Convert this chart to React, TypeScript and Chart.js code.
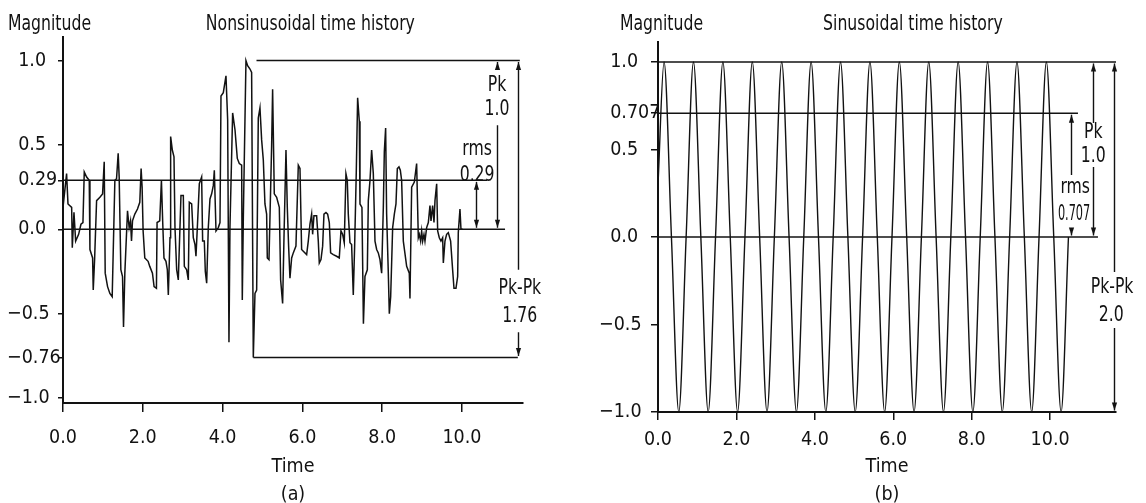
import React, { useEffect, useRef } from "react";
import { Chart, registerables } from "chart.js";

Chart.register(...registerables);

const FONT = '"DejaVu Sans Condensed", "Liberation Sans Narrow", "Liberation Sans", sans-serif';
const INK = "#121212";
const TICK_SIZE = 19.5;
const NOTE_SIZE = 21;
const NOTE_SQUEEZE = 0.83;

// ---------------- Panel (a): nonsinusoidal time history ----------------
const nsTime = [
  0.0, 0.09, 0.125, 0.217, 0.233, 0.275, 0.317, 0.392, 0.45, 0.5,
  0.533, 0.592, 0.658, 0.675, 0.742, 0.758, 0.792, 0.842, 0.925, 0.992,
  1.033, 1.058, 1.117, 1.175, 1.233, 1.3, 1.342, 1.383, 1.408, 1.45,
  1.492, 1.517, 1.55, 1.617, 1.658, 1.692, 1.717, 1.742, 1.8, 1.867,
  1.925, 1.958, 1.983, 2.008, 2.05, 2.133, 2.175, 2.242, 2.283, 2.342,
  2.358, 2.425, 2.467, 2.498, 2.531, 2.581, 2.615, 2.64, 2.682, 2.698,
  2.74, 2.782, 2.807, 2.849, 2.89, 2.957, 3.016, 3.041, 3.1, 3.141,
  3.166, 3.225, 3.266, 3.308, 3.333, 3.367, 3.417, 3.475, 3.5, 3.542,
  3.567, 3.601, 3.642, 3.684, 3.726, 3.768, 3.793, 3.835, 3.893, 3.935,
  3.96, 4.018, 4.085, 4.127, 4.16, 4.185, 4.252, 4.311, 4.369, 4.419,
  4.478, 4.494, 4.52, 4.586, 4.628, 4.687, 4.728, 4.77, 4.812, 4.854,
  4.895, 4.937, 4.979, 5.021, 5.062, 5.104, 5.121, 5.163, 5.229, 5.254,
  5.296, 5.355, 5.422, 5.455, 5.505, 5.539, 5.589, 5.622, 5.655, 5.689,
  5.731, 5.772, 5.839, 5.898, 5.94, 5.981, 6.023, 6.107, 6.148, 6.19,
  6.232, 6.257, 6.29, 6.357, 6.399, 6.424, 6.466, 6.508, 6.541, 6.591,
  6.633, 6.675, 6.708, 6.775, 6.858, 6.925, 6.967, 7.009, 7.05, 7.092,
  7.126, 7.151, 7.193, 7.234, 7.276, 7.31, 7.351, 7.385, 7.427, 7.444,
  7.493, 7.53, 7.569, 7.628, 7.653, 7.695, 7.736, 7.778, 7.82, 7.862,
  7.903, 7.945, 7.987, 8.029, 8.054, 8.087, 8.112, 8.154, 8.179, 8.213,
  8.263, 8.305, 8.346, 8.38, 8.421, 8.455, 8.488, 8.53, 8.614, 8.68,
  8.697, 8.739, 8.806, 8.864, 8.906, 8.931, 8.964, 8.99, 9.015, 9.048,
  9.073, 9.115, 9.157, 9.198, 9.224, 9.265, 9.299, 9.324, 9.366, 9.391,
  9.432, 9.474, 9.516, 9.533, 9.574, 9.616, 9.658, 9.716, 9.766, 9.8,
  9.85, 9.892, 9.908, 9.95, 9.975, 10.017,
];
const nsValue = [
  0.13, 0.33, 0.15, 0.13, -0.11, 0.1, -0.07, -0.03, 0.03, 0.04,
  0.34, 0.31, 0.29, -0.12, -0.17, -0.36, -0.18, 0.17, 0.19, 0.21,
  0.4, -0.26, -0.34, -0.38, -0.4, 0.29, 0.3, 0.45, 0.31, -0.24,
  -0.28, -0.58, -0.26, 0.11, 0.01, 0.05, -0.07, 0.05, 0.09, 0.12,
  0.16, 0.36, 0.25, -0.01, -0.17, -0.19, -0.22, -0.26, -0.34, -0.35,
  0.04, 0.05, 0.29, 0.05, -0.17, -0.19, -0.24, -0.39, -0.05, 0.55,
  0.47, 0.43, 0.01, -0.24, -0.3, 0.2, 0.2, -0.22, -0.24, -0.3,
  0.16, 0.15, -0.05, -0.09, -0.16, 0.01, 0.27, 0.31, -0.07, -0.07,
  -0.25, -0.32, 0.01, 0.18, 0.21, 0.26, 0.35, -0.01, 0.01, 0.04,
  0.79, 0.81, 0.91, 0.65, -0.67, 0.01, 0.69, 0.59, 0.42, 0.39,
  0.38, -0.42, 0.07, 1.0, 0.97, 0.95, 0.93, -0.76, -0.38, -0.36,
  0.66, 0.72, 0.53, 0.41, 0.15, 0.09, -0.17, -0.18, 0.49, 0.83,
  0.21, 0.19, 0.13, -0.3, -0.44, -0.05, 0.47, 0.13, -0.1, -0.29,
  -0.17, -0.14, -0.1, 0.38, 0.36, -0.12, -0.13, -0.15, -0.07, 0.03,
  0.09, -0.03, 0.08, 0.08, -0.07, -0.2, -0.18, -0.1, 0.09, 0.1,
  0.09, 0.04, -0.14, -0.15, -0.16, -0.17, -0.01, -0.03, -0.08, 0.33,
  0.29, 0.09, -0.08, -0.09, -0.39, -0.1, 0.34, 0.78, 0.64, 0.15,
  0.13, -0.56, -0.28, -0.24, 0.17, 0.29, 0.47, 0.33, -0.07, -0.12,
  -0.14, -0.18, -0.26, 0.13, 0.46, 0.6, 0.09, -0.26, -0.5, -0.4,
  0.01, 0.09, 0.15, 0.36, 0.37, 0.35, 0.29, -0.07, -0.22, -0.26,
  -0.41, 0.25, 0.28, 0.39, -0.05, -0.03, -0.07, -0.01, -0.07, -0.03,
  -0.07, 0.01, 0.04, 0.14, 0.05, 0.14, 0.04, 0.17, 0.27, -0.01,
  -0.05, -0.07, -0.05, -0.2, -0.07, -0.03, -0.02, -0.07, -0.24, -0.35,
  -0.35, -0.28, -0.02, 0.12, 0.0, 0.0,
];

const xTicks = [0, 2, 4, 6, 8, 10];
const xTickLabels = ["0.0", "2.0", "4.0", "6.0", "8.0", "10.0"];

const aYTicks = [1.0, 0.5, 0.29, 0.0, -0.5, -0.76, -1.0];
const aYTickLabels = ["\u20071.0", "\u20070.5", "\u20070.29", "\u20070.0", "\u22120.5", "\u22120.76", "\u22121.0"];

const aRefLevel = [1.0, 0.29, 0.0, -0.76];
const aRefStart = [4.85, 0, 0, 4.77];
const aRefEnd = [11.45, 10.63, 11.08, 11.4];

const aArrowX = [10.88, 10.35, 11.4];
const aArrowTop = [1.0, 0.29, 1.0];
const aArrowBottom = [0.0, 0.0, -0.76];
const aGapTop = [0.955, NaN, -0.24];
const aGapBottom = [0.617, NaN, -0.61];

const aNoteText = ["Pk", "1.0", "rms", "0.29", "Pk-Pk", "1.76"];
const aNoteX = [10.88, 10.88, 10.38, 10.38, 11.45, 11.45];
const aNoteY = [0.855, 0.71, 0.47, 0.32, -0.35, -0.515];
const aNoteSqueeze = [1, 1, 1, 1, 1, 1];

// ---------------- Panel (b): sinusoidal time history ----------------
const sinTime = [
  0, 0.155, 0.3425, 0.53, 0.7175, 0.905, 1.0925, 1.28, 1.4675, 1.655,
  1.8425, 2.03, 2.2175, 2.405, 2.5925, 2.78, 2.9675, 3.155, 3.3425, 3.53,
  3.7175, 3.905, 4.0925, 4.28, 4.4675, 4.655, 4.8425, 5.03, 5.2175, 5.405,
  5.5925, 5.78, 5.9675, 6.155, 6.3425, 6.53, 6.7175, 6.905, 7.0925, 7.28,
  7.4675, 7.655, 7.8425, 8.03, 8.2175, 8.405, 8.5925, 8.78, 8.9675, 9.155,
  9.3425, 9.53, 9.7175, 9.905, 10.0925, 10.28, 10.4675,
];
const sinValue = [
  0.3, 1, 0, -1, 0, 1, 0, -1, 0, 1,
  0, -1, 0, 1, 0, -1, 0, 1, 0, -1,
  0, 1, 0, -1, 0, 1, 0, -1, 0, 1,
  0, -1, 0, 1, 0, -1, 0, 1, 0, -1,
  0, 1, 0, -1, 0, 1, 0, -1, 0, 1,
  0, -1, 0, 1, 0, -1, 0,
];

const bYTicks = [1.0, 0.707, 0.5, 0.0, -0.5, -1.0];
const bYTickLabels = ["\u20071.0", "\u20070.707", "\u20070.5", "\u20070.0", "\u22120.5", "\u22121.0"];

const bRefLevel = [1.0, 0.707, 0.0];
const bRefStart = [0, 0, 0];
const bRefEnd = [11.68, 10.71, 11.22];

const bArrowX = [11.1, 10.54, 11.63];
const bArrowTop = [1.0, 0.707, 1.0];
const bArrowBottom = [0.0, 0.0, -1.0];
const bGapTop = [0.651, 0.354, -0.2];
const bGapBottom = [0.4, 0.029, -0.52];

const bNoteText = ["Pk", "1.0", "rms", "0.707", "Pk-Pk", "2.0"];
const bNoteX = [11.1, 11.1, 10.64, 10.61, 11.58, 11.56];
const bNoteY = [0.594, 0.457, 0.28, 0.126, -0.29, -0.45];
const bNoteSqueeze = [1, 1, 1, 0.72, 1, 1];

type PanelSpec = {
  id: string;
  time: number[];
  value: number[];
  smooth: boolean;
  lineWidth: number;
  yTicks: number[];
  yTickLabels: string[];
  yMin: number;
  yMax: number;
  xMax: number;
  refLevel: number[];
  refStart: number[];
  refEnd: number[];
  arrowX: number[];
  arrowTop: number[];
  arrowBottom: number[];
  gapTop: number[];
  gapBottom: number[];
  noteText: string[];
  noteX: number[];
  noteY: number[];
  noteSqueeze: number[];
  header: string;
  headerX: number;
  title: string;
  titleX: number;
  caption: string;
  padding: { left: number; top: number; right: number; bottom: number };
  yWidth: number;
  xHeight: number;
  xTickPad: number;
  yTickLen: number;
  xTickLen: number;
};

function squeezedText(ctx: CanvasRenderingContext2D, text: string, x: number, y: number, sx: number) {
  ctx.save();
  ctx.translate(x, y);
  ctx.scale(sx, 1);
  ctx.fillText(text, 0, 0);
  ctx.restore();
}

function makeNotesPlugin(p: PanelSpec) {
  return {
    id: "notes_" + p.id,
    afterDraw(chart: any) {
      const ctx: CanvasRenderingContext2D = chart.ctx;
      const xs = chart.scales.x;
      const ys = chart.scales.y;
      ctx.save();
      ctx.strokeStyle = INK;
      ctx.fillStyle = INK;
      ctx.lineWidth = 1.4;
      p.arrowX.forEach((ax, i) => {
        const px = Math.round(xs.getPixelForValue(ax)) + 0.5;
        const top = ys.getPixelForValue(p.arrowTop[i]) + 1.5;
        const bot = ys.getPixelForValue(p.arrowBottom[i]) - 1.5;
        ctx.beginPath();
        if (!isNaN(p.gapTop[i])) {
          ctx.moveTo(px, top);
          ctx.lineTo(px, ys.getPixelForValue(p.gapTop[i]));
          ctx.moveTo(px, ys.getPixelForValue(p.gapBottom[i]));
          ctx.lineTo(px, bot);
        } else {
          ctx.moveTo(px, top);
          ctx.lineTo(px, bot);
        }
        ctx.stroke();
        const hw = 2.6;
        const hl = 8;
        ctx.beginPath();
        ctx.moveTo(px, top);
        ctx.lineTo(px - hw, top + hl);
        ctx.lineTo(px + hw, top + hl);
        ctx.closePath();
        ctx.fill();
        ctx.beginPath();
        ctx.moveTo(px, bot);
        ctx.lineTo(px - hw, bot - hl);
        ctx.lineTo(px + hw, bot - hl);
        ctx.closePath();
        ctx.fill();
      });
      ctx.font = `${NOTE_SIZE}px ${FONT}`;
      ctx.textAlign = "center";
      ctx.textBaseline = "middle";
      p.noteText.forEach((t, i) => {
        squeezedText(
          ctx,
          t,
          xs.getPixelForValue(p.noteX[i]),
          ys.getPixelForValue(p.noteY[i]),
          NOTE_SQUEEZE * p.noteSqueeze[i]
        );
      });
      ctx.textAlign = "left";
      squeezedText(ctx, p.header, xs.getPixelForValue(p.headerX), 25, NOTE_SQUEEZE);
      ctx.textAlign = "center";
      squeezedText(ctx, p.title, xs.getPixelForValue(p.titleX), 25, NOTE_SQUEEZE);
      ctx.restore();
    },
  };
}

function buildConfig(p: PanelSpec): any {
  const main = {
    data: p.time.map((t, i) => ({ x: t, y: p.value[i] })),
    borderColor: INK,
    borderWidth: p.lineWidth,
    pointRadius: 0,
    tension: 0,
    cubicInterpolationMode: p.smooth ? "monotone" : "default",
    fill: false,
  };
  const refs = p.refLevel.map((lv, i) => ({
    data: [
      { x: p.refStart[i], y: lv },
      { x: p.refEnd[i], y: lv },
    ],
    borderColor: INK,
    borderWidth: 1.5,
    pointRadius: 0,
    fill: false,
  }));
  const tickFont = { family: FONT, size: TICK_SIZE };
  return {
    type: "line",
    data: { datasets: [main, ...refs] },
    options: {
      animation: false,
      responsive: false,
      events: [],
      layout: { padding: p.padding },
      plugins: {
        legend: { display: false },
        tooltip: { enabled: false },
        title: { display: false },
      },
      scales: {
        x: {
          type: "linear",
          min: 0,
          max: p.xMax,
          afterBuildTicks: (s: any) => {
            s.ticks = xTicks.map((v) => ({ value: v }));
          },
          afterFit: (s: any) => {
            s.height = p.xHeight;
          },
          ticks: {
            autoSkip: false,
            maxRotation: 0,
            padding: p.xTickPad,
            font: tickFont,
            color: INK,
            callback: (_v: any, i: number) => xTickLabels[i],
          },
          grid: {
            drawOnChartArea: false,
            drawTicks: true,
            tickLength: p.xTickLen,
            color: INK,
            lineWidth: 1.5,
          },
          border: { display: true, color: INK, width: 2 },
          title: {
            display: true,
            text: ["Time", p.caption],
            font: { family: FONT, size: TICK_SIZE, lineHeight: 1.39 },
            color: INK,
            padding: { top: 0, bottom: -5 },
          },
        },
        y: {
          type: "linear",
          min: p.yMin,
          max: p.yMax,
          afterBuildTicks: (s: any) => {
            s.ticks = p.yTicks.map((v) => ({ value: v }));
          },
          afterFit: (s: any) => {
            s.width = p.yWidth;
          },
          ticks: {
            autoSkip: false,
            crossAlign: "far",
            font: tickFont,
            color: INK,
            callback: (_v: any, i: number) => p.yTickLabels[i],
          },
          grid: {
            drawOnChartArea: false,
            drawTicks: true,
            tickLength: p.yTickLen,
            color: INK,
            lineWidth: 1.5,
          },
          border: { display: true, color: INK, width: 2 },
        },
      },
    },
    plugins: [makeNotesPlugin(p)],
  };
}

const panelA: PanelSpec = {
  id: "a",
  time: nsTime,
  value: nsValue,
  smooth: false,
  lineWidth: 1.5,
  yTicks: aYTicks,
  yTickLabels: aYTickLabels,
  yMin: -1.03,
  yMax: 1.14,
  xMax: 11.53,
  refLevel: aRefLevel,
  refStart: aRefStart,
  refEnd: aRefEnd,
  arrowX: aArrowX,
  arrowTop: aArrowTop,
  arrowBottom: aArrowBottom,
  gapTop: aGapTop,
  gapBottom: aGapBottom,
  noteText: aNoteText,
  noteX: aNoteX,
  noteY: aNoteY,
  noteSqueeze: aNoteSqueeze,
  header: "Magnitude",
  headerX: -1.38,
  title: "Nonsinusoidal time history",
  titleX: 6.2,
  caption: "(a)",
  padding: { left: 7, top: 37, right: 37, bottom: 0 },
  yWidth: 56,
  xHeight: 100,
  xTickPad: 14,
  yTickLen: 5,
  xTickLen: 9,
};

const panelB: PanelSpec = {
  id: "b",
  time: sinTime,
  value: sinValue,
  smooth: true,
  lineWidth: 1.4,
  yTicks: bYTicks,
  yTickLabels: bYTickLabels,
  yMin: -1.0,
  yMax: 1.114,
  xMax: 11.68,
  refLevel: bRefLevel,
  refStart: bRefStart,
  refEnd: bRefEnd,
  arrowX: bArrowX,
  arrowTop: bArrowTop,
  arrowBottom: bArrowBottom,
  gapTop: bGapTop,
  gapBottom: bGapBottom,
  noteText: bNoteText,
  noteX: bNoteX,
  noteY: bNoteY,
  noteSqueeze: bNoteSqueeze,
  header: "Magnitude",
  headerX: -0.97,
  title: "Sinusoidal time history",
  titleX: 6.5,
  caption: "(b)",
  padding: { left: 39, top: 42, right: 30, bottom: 0 },
  yWidth: 59,
  xHeight: 91,
  xTickPad: 8,
  yTickLen: 7,
  xTickLen: 8,
};

function Panel({ spec, left, width }: { spec: PanelSpec; left: number; width: number }) {
  const ref = useRef<HTMLCanvasElement>(null);
  useEffect(() => {
    const chart = new Chart(ref.current as HTMLCanvasElement, buildConfig(spec));
    return () => chart.destroy();
  }, [spec]);
  return (
    <canvas
      ref={ref}
      width={width}
      height={503}
      style={{ position: "absolute", left, top: 0, width, height: 503, display: "block" }}
    />
  );
}

export default function App() {
  return (
    <div style={{ position: "absolute", left: 0, top: 0, width: 1146, height: 503, background: "#fff", overflow: "hidden" }}>
      <Panel spec={panelA} left={0} width={560} />
      <Panel spec={panelB} left={560} width={586} />
    </div>
  );
}
